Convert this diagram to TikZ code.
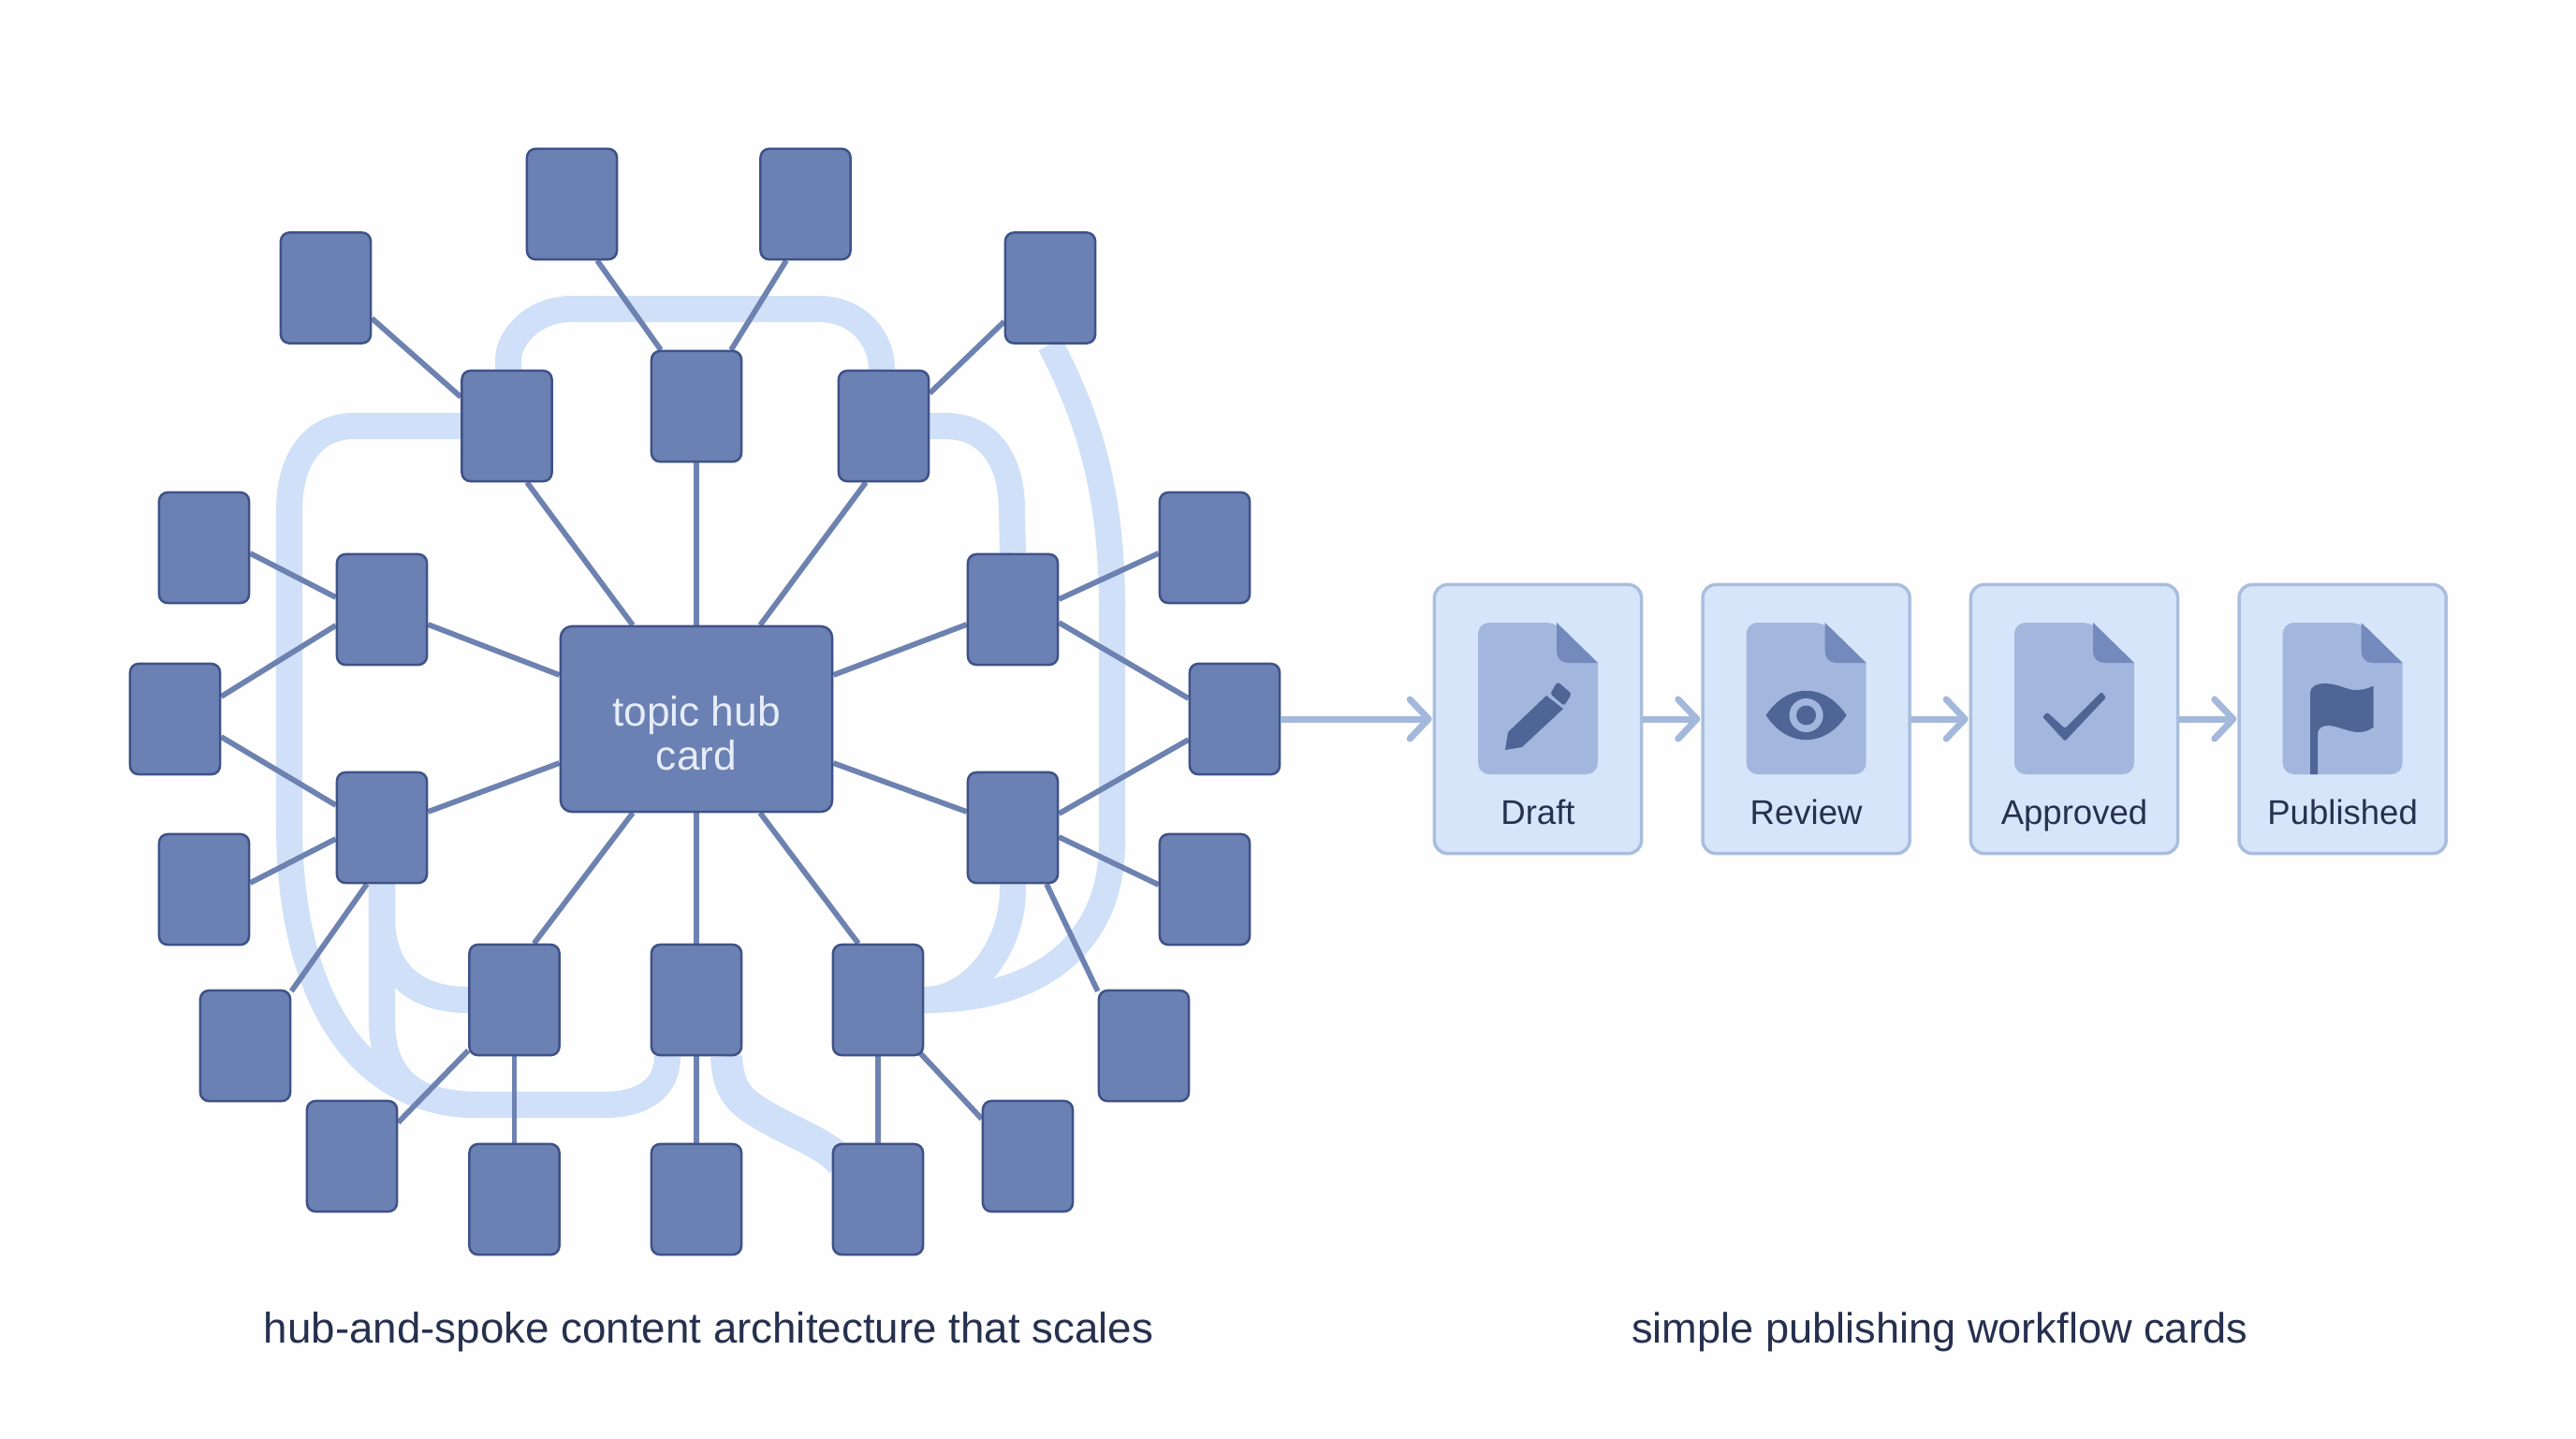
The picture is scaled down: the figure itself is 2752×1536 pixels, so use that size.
\documentclass[tikz,border=0pt]{standalone}
\usepackage{fontspec}
\setmainfont{Liberation Sans}
\usetikzlibrary{arrows.meta,backgrounds,calc}
\definecolor{bgc}{HTML}{FEFEFE}
\definecolor{nodefill}{HTML}{6B80B3}
\definecolor{nodeedge}{HTML}{3F5288}
\definecolor{spokec}{HTML}{6D82B0}
\definecolor{ribbonc}{HTML}{CFE0F8}
\definecolor{cardfill}{HTML}{D7E5FB}
\definecolor{cardedge}{HTML}{A9BEDD}
\definecolor{docfill}{HTML}{A3B7DE}
\definecolor{foldfill}{HTML}{7489BC}
\definecolor{iconc}{HTML}{4F6595}
\definecolor{arrowc}{HTML}{A3B8DB}
\definecolor{inkc}{HTML}{26304F}
\definecolor{hubtext}{HTML}{E6ECF8}
\tikzset{
  x=0.01cm,y=-0.01cm,
  smallbox/.style={draw=nodeedge,fill=nodefill,line width=0.025cm,rounded corners=0.09cm,minimum width=0.96cm,minimum height=1.18cm,inner sep=0pt},
  hubbox/.style={draw=nodeedge,fill=nodefill,line width=0.025cm,rounded corners=0.12cm,minimum width=2.9cm,minimum height=1.98cm,inner sep=0pt},
  hubtextstyle/.style={align=center,text=hubtext,inner sep=0pt,font=\fontsize{12.6}{13.2}\selectfont},
  spoke/.style={draw=spokec,line width=0.058cm},
  ribbon/.style={draw=ribbonc,line width=0.28cm},
  cardbox/.style={draw=cardedge,fill=cardfill,line width=0.035cm,rounded corners=0.14cm,minimum width=2.21cm,minimum height=2.87cm,inner sep=0pt},
  flowarrow/.style={draw=arrowc,line width=0.07cm,-{Straight Barb[length=0.2cm,width=0.42cm,round]},shorten >=0.01cm},
  cardlabel/.style={text=inkc,font=\fontsize{10.4}{12}\selectfont,inner sep=0pt,anchor=base},
  captiontext/.style={text=inkc,font=\fontsize{13}{15}\selectfont,inner sep=0pt,anchor=base},
}
\newcommand{\docshape}{%
  \fill[docfill] (-64,750) [rounded corners=0.12cm] -- (-64,665) -- (20,665) [sharp corners] -- (64,708) [rounded corners=0.12cm] -- (64,827) -- (-64,827) -- cycle;
  \fill[foldfill] (20,665) -- (64,708) -- (32,708) .. controls (25,708) and (20,703) .. (20,695) -- cycle;
}
\begin{document}
\begin{tikzpicture}
\useasboundingbox (0,0) rectangle (2752,1536);

% hub and inner ring
\node[hubbox] (hub) at (744,768) {};
\node[hubtextstyle] (hubl) at (744,783) {topic hub\\card};
\node[smallbox] (itl) at (541.5,455) {};
\node[smallbox] (itc) at (744,434) {};
\node[smallbox] (itr) at (944,455) {};
\node[smallbox] (ilt) at (408,651) {};
\node[smallbox] (ilb) at (408,884) {};
\node[smallbox] (irt) at (1082,651) {};
\node[smallbox] (irb) at (1082,884) {};
\node[smallbox] (ibl) at (549.5,1068) {};
\node[smallbox] (ibc) at (744,1068) {};
\node[smallbox] (ibr) at (938,1068) {};
% outer ring
\node[smallbox] (topa) at (611,218) {};
\node[smallbox] (topb) at (860.5,218) {};
\node[smallbox] (ul) at (348,307.5) {};
\node[smallbox] (ur) at (1122,307.5) {};
\node[smallbox] (la) at (218,585) {};
\node[smallbox] (lb) at (187,768) {};
\node[smallbox] (lc) at (218,950) {};
\node[smallbox] (ld) at (262,1117) {};
\node[smallbox] (ra) at (1287,585) {};
\node[smallbox] (rb) at (1319,768) {};
\node[smallbox] (rc) at (1287,950) {};
\node[smallbox] (rd) at (1222,1117) {};
\node[smallbox] (bla) at (376,1235) {};
\node[smallbox] (bra) at (1098,1235) {};
\node[smallbox] (bba) at (549.5,1281) {};
\node[smallbox] (bbb) at (744,1281) {};
\node[smallbox] (bbc) at (938,1281) {};

\begin{pgfonlayer}{background}
\fill[bgc] (0,0) rectangle (2752,1536);
% ribbons
\draw[ribbon] ([xshift=0.015cm]itl.north) -- +(0,-10) .. controls (543,360) and (570,330) .. (611,330) -- (875,330) .. controls (915,330) and (942,360) .. ([xshift=-0.02cm]itr.north);
\draw[ribbon] (itl.west) -- (378,455) .. controls (335,455) and (309,490) .. (309,545) -- (309,880) .. controls (309,1060) and (380,1180) .. (510,1180);
\draw[ribbon] (ilb.south) -- (408,1090) .. controls (408,1150) and (440,1180) .. (510,1180) -- (645,1180) .. controls (690,1180) and (713,1160) .. ([xshift=-0.31cm]ibc.south);
\draw[ribbon] (ilb.south) -- (408,980) .. controls (408,1035) and (440,1068) .. (ibl.west);
\draw[ribbon] (itr.east) -- (1010,455) .. controls (1055,455) and (1081,490) .. (1081,545) -- (irt.north);
\draw[ribbon] (ur.south) .. controls (1165,450) and (1188,530) .. (1188,650) -- (1188,900) .. controls (1188,1000) and (1120,1068) .. (ibr.east);
\draw[ribbon] (irb.south) -- (1082,950) .. controls (1082,1010) and (1040,1068) .. (ibr.east);
\draw[ribbon,line width=0.34cm] ([xshift=0.32cm]ibc.south) .. controls (778,1165) and (790,1175) .. (810,1188) .. controls (850,1212) and (880,1220) .. ([xshift=0.1cm,yshift=0.4cm]bbc.west);
% spokes
\draw[spoke] ([xshift=-0.68cm]hub.north) -- ([xshift=0.215cm]itl.south);
\draw[spoke] (hub.north) -- (itc.south);
\draw[spoke] ([xshift=0.68cm]hub.north) -- ([xshift=-0.19cm]itr.south);
\draw[spoke] ([yshift=0.47cm]hub.west) -- ([yshift=-0.16cm]ilt.east);
\draw[spoke] ([yshift=-0.47cm]hub.west) -- ([yshift=0.17cm]ilb.east);
\draw[spoke] ([yshift=0.47cm]hub.east) -- ([yshift=-0.16cm]irt.west);
\draw[spoke] ([yshift=-0.47cm]hub.east) -- ([yshift=0.17cm]irb.west);
\draw[spoke] ([xshift=-0.68cm]hub.south) -- ([xshift=0.21cm]ibl.north);
\draw[spoke] (hub.south) -- (ibc.north);
\draw[spoke] ([xshift=0.68cm]hub.south) -- ([xshift=-0.21cm]ibr.north);
\draw[spoke] ([yshift=-0.325cm]ul.east) -- ([yshift=0.31cm]itl.west);
\draw[spoke] ([xshift=0.27cm]topa.south) -- ([xshift=-0.38cm]itc.north);
\draw[spoke] ([xshift=-0.205cm]topb.south) -- ([xshift=0.37cm]itc.north);
\draw[spoke] ([yshift=-0.36cm]ur.west) -- ([yshift=0.35cm]itr.east);
\draw[spoke] ([yshift=-0.06cm]la.east) -- ([yshift=0.13cm]ilt.west);
\draw[spoke] ([yshift=0.24cm]lb.east) -- ([yshift=-0.17cm]ilt.west);
\draw[spoke] ([yshift=-0.19cm]lb.east) -- ([yshift=0.24cm]ilb.west);
\draw[spoke] ([yshift=0.07cm]lc.east) -- ([yshift=-0.12cm]ilb.west);
\draw[spoke] ([yshift=-0.02cm]ld.north east) -- ([xshift=-0.16cm]ilb.south);
\draw[spoke] ([yshift=-0.06cm]ra.west) -- ([yshift=0.11cm]irt.east);
\draw[spoke] ([yshift=0.22cm]rb.west) -- ([yshift=-0.14cm]irt.east);
\draw[spoke] ([yshift=-0.22cm]rb.west) -- ([yshift=0.15cm]irb.east);
\draw[spoke] ([yshift=0.05cm]rc.west) -- ([yshift=-0.10cm]irb.east);
\draw[spoke] ([yshift=-0.02cm]rd.north west) -- ([xshift=0.36cm]irb.south);
\draw[spoke] ([yshift=0.36cm]bla.east) -- ([yshift=-0.54cm]ibl.west);
\draw[spoke] ([yshift=0.40cm]bra.west) -- ([xshift=-0.04cm,yshift=-0.57cm]ibr.east);
\draw[spoke] (ibl.south) -- (bba.north);
\draw[spoke] (ibc.south) -- (bbb.north);
\draw[spoke] (ibr.south) -- (bbc.north);
\end{pgfonlayer}

% workflow cards
\node[cardbox] (draft) at (1643,768) {};
\node[cardbox] (review) at (1929.6,768) {};
\node[cardbox] (approved) at (2216,768) {};
\node[cardbox] (published) at (2502.6,768) {};
\draw[flowarrow] (rb.east) -- (draft.west);
\draw[flowarrow] (draft.east) -- (review.west);
\draw[flowarrow] (review.east) -- (approved.west);
\draw[flowarrow] (approved.east) -- (published.west);

% Draft icon
\begin{scope}[shift={(1643,0)}]
\docshape
\fill[iconc] (-35,801) -- (-32,782) -- (9,743) -- (27,757) -- (-17,798) -- cycle;
\fill[iconc,rounded corners=0.03cm] (13,741) -- (21,728) -- (36,741) -- (28,754) -- cycle;
\end{scope}
% Review icon
\begin{scope}[shift={(1929.6,0)}]
\docshape
\fill[iconc] (-43,764) .. controls (-20,729) and (20,729) .. (43,764) .. controls (20,799) and (-20,799) .. (-43,764) -- cycle;
\fill[docfill] (0,764) circle[radius=0.18cm];
\fill[iconc] (0,764) circle[radius=0.105cm];
\end{scope}
% Approved icon
\begin{scope}[shift={(2216,0)}]
\docshape
\fill[iconc,rounded corners=0.015cm] (-34,765.7) -- (-29,760.7) -- (-10,778) -- (29,739) -- (34,745) -- (-10,791.7) -- cycle;
\end{scope}
% Published icon
\begin{scope}[shift={(2502.6,0)}]
\docshape
\fill[iconc] (-34.5,827) -- (-34.5,740) .. controls (-34.5,733) and (-27,730) .. (-20,730) .. controls (-5,730) and (5,737) .. (13,737) .. controls (22,737) and (28,735) .. (33,732.7) -- (33,776.7) .. controls (28,780) and (24,782) .. (18,782) .. controls (5,782) and (-5,775) .. (-16,775) .. controls (-22,775) and (-26,778) .. (-26.5,783) -- (-26.5,827) -- cycle;
\end{scope}

\node[cardlabel] (draftl) at (1643,880) {Draft};
\node[cardlabel] (reviewl) at (1929.6,880) {Review};
\node[cardlabel] (approvedl) at (2216,880) {Approved};
\node[cardlabel] (publishedl) at (2502.6,880) {Published};

\node[captiontext] (capa) at (757,1434) {hub-and-spoke content architecture that scales};
\node[captiontext,font=\fontsize{12.85}{15}\selectfont] (capb) at (2072,1434) {simple publishing workflow cards};
\end{tikzpicture}
\end{document}
